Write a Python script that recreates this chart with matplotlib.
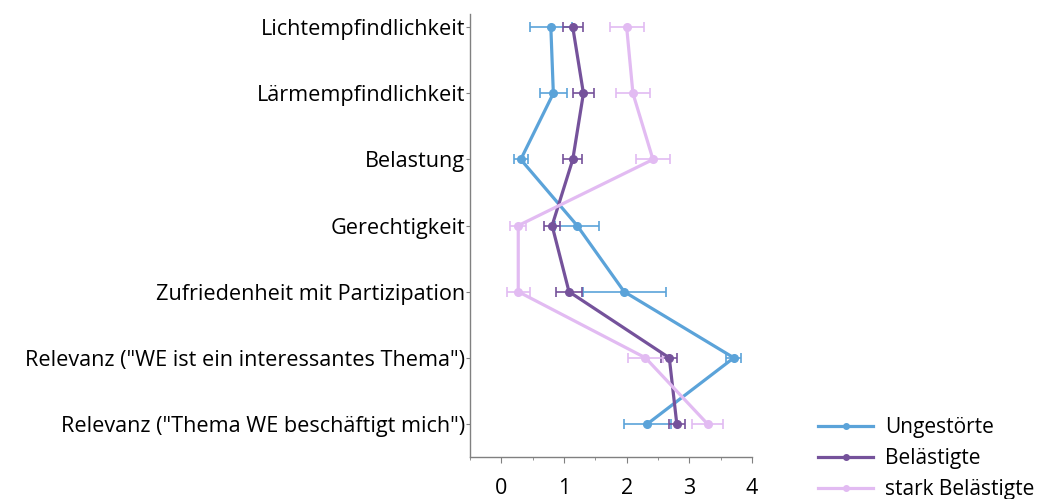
import matplotlib
matplotlib.use("Agg")
import matplotlib.pyplot as plt
import numpy as np

categories = ["Lichtempfindlichkeit", "Lärmempfindlichkeit", "Belastung", "Gerechtigkeit",
              "Zufriedenheit mit Partizipation", 'Relevanz ("WE ist ein interessantes Thema")',
              'Relevanz ("Thema WE beschäftigt mich")']
series_names = ["Ungestörte", "Belästigte", "stark Belästigte"]
ungestoerte = [0.79, 0.83, 0.31, 1.21, 1.96, 3.71, 2.33]
ungestoerte_err = [0.33, 0.21, 0.11, 0.35, 0.66, 0.12, 0.37]
belaestigte = [1.14, 1.31, 1.14, 0.81, 1.08, 2.68, 2.80]
belaestigte_err = [0.16, 0.17, 0.15, 0.13, 0.20, 0.13, 0.13]
stark = [2.00, 2.10, 2.42, 0.27, 0.27, 2.30, 3.29]
stark_err = [0.27, 0.27, 0.27, 0.13, 0.18, 0.28, 0.25]
x_ticks = [0, 1, 2, 3, 4]

colors = ["#5BA3D9", "#75529B", "#E2BBF2"]

plt.rcParams['font.family'] = ['Open Sans', 'DejaVu Sans']
fig = plt.figure(figsize=(10.37, 4.99), dpi=100)
ax = fig.add_axes([470/1037, 1-457/499, (752-470)/1037, (457-14)/499])

y = np.arange(len(categories))
data = [(ungestoerte, ungestoerte_err), (belaestigte, belaestigte_err), (stark, stark_err)]
order = [0, 2, 1]
for i in order:
    vals, errs = data[i]
    ax.errorbar(vals, y, xerr=errs, fmt='none', ecolor=colors[i], elinewidth=1.2,
                capsize=3.8, capthick=1.2, zorder=2 + i)
    ax.plot(vals, y, color=colors[i], lw=2.3, marker='o', ms=5.5, zorder=3 + i,
            label=series_names[i])

ax.set_xlim(-0.5, 4)
ax.set_ylim(6.5, -0.2)
ax.set_yticks(y)
ax.set_yticklabels(categories, fontsize=15.6)
ax.set_xticks(x_ticks)
ax.set_xticklabels([str(t) for t in x_ticks], fontsize=15.5)
ax.set_xticks(np.arange(-0.5, 4.01, 0.5), minor=True)
ax.tick_params(axis='x', which='major', length=4, pad=11, color='#808080')
ax.tick_params(axis='x', which='minor', length=2, color='#808080')
ax.tick_params(axis='y', length=3, pad=0.5, color='#808080')
for s in ['top', 'right']:
    ax.spines[s].set_visible(False)
for s in ['left', 'bottom']:
    ax.spines[s].set_color('#808080')
    ax.spines[s].set_linewidth(1.0)

legend_handles = [plt.Line2D([], [], color=colors[i], lw=2.3, marker='o', ms=4) for i in range(3)]
fig.legend(legend_handles, series_names, loc='upper left', bbox_to_anchor=(808/1037, 1-407/499),
           frameon=False, fontsize=15, handlelength=2.6, labelspacing=0.48, handletextpad=0.6,
           borderaxespad=0, borderpad=0.5)

fig.savefig("out.png", dpi=100)
